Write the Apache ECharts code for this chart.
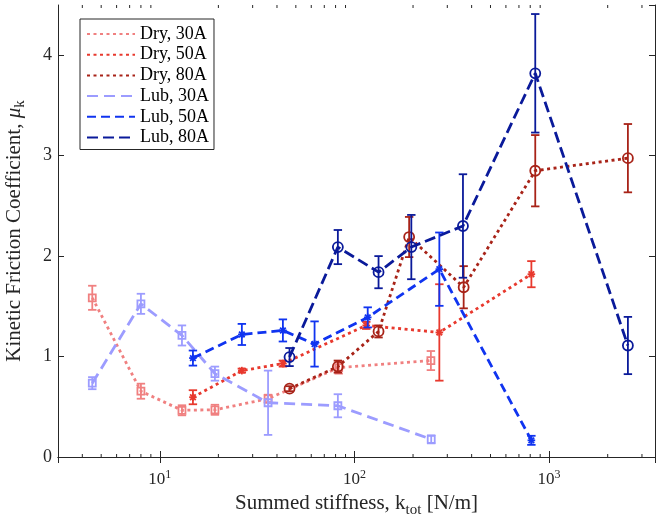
<!DOCTYPE html>
<html><head><meta charset="utf-8">
<script src="https://cdn.jsdelivr.net/npm/echarts@6/dist/echarts.min.js"></script>
<style>html,body{margin:0;padding:0;background:#fff}#c{width:657px;height:525px}</style>
</head><body><div id="c"></div>
<script>
// ---- data ----
const seriesNames = ['Dry, 30A', 'Dry, 50A', 'Dry, 80A', 'Lub, 30A', 'Lub, 50A', 'Lub, 80A'];

const dry30X = [4.5, 8.0, 13.0, 19.2, 36, 83, 247];
const dry30Y = [1.585, 0.655, 0.465, 0.47, 0.58, 0.89, 0.96];
const dry30Err = [0.12, 0.075, 0.05, 0.05, 0.04, 0.06, 0.095];

const dry50X = [14.8, 26.4, 42.9, 115, 273, 811];
const dry50Y = [0.595, 0.86, 0.93, 1.31, 1.24, 1.82];
const dry50Err = [0.07, 0.02, 0.03, 0.035, 0.48, 0.13];

const dry80X = [46.4, 82.2, 133, 191, 364, 849, 2540];
const dry80Y = [0.68, 0.90, 1.25, 2.19, 1.69, 2.85, 2.975];
const dry80Err = [0.025, 0.06, 0.06, 0.20, 0.21, 0.355, 0.34];

const lub30X = [4.5, 8.0, 13.0, 19.2, 36, 82.2, 248];
const lub30Y = [0.735, 1.525, 1.21, 0.83, 0.54, 0.51, 0.176];
const lub30Err = [0.06, 0.10, 0.10, 0.07, 0.32, 0.115, 0.04];

const lub50X = [14.8, 26.4, 42.9, 62.4, 117, 273, 811];
const lub50Y = [0.985, 1.22, 1.26, 1.125, 1.39, 1.87, 0.166];
const lub50Err = [0.075, 0.105, 0.11, 0.225, 0.10, 0.365, 0.045];

const lub80X = [46.4, 82.2, 133, 196, 361, 849, 2540];
const lub80Y = [0.995, 2.09, 1.84, 2.09, 2.30, 3.82, 1.11];
const lub80Err = [0.09, 0.17, 0.16, 0.32, 0.515, 0.59, 0.285];

const xMin = 3, xMax = 3500;
const yMin = 0, yMax = 4.5;
const yTicks = [0, 1, 2, 3, 4];
const xMinorTicks = [];
[1, 10, 100, 1000].forEach(d => { for (let m = 2; m <= 9; m++) { const v = m * d; if (v > xMin && v < xMax) xMinorTicks.push(v); } });

// ---- styles ----
const FONT = 'Liberation Serif';
const AX = '#262626';
const styles = [
  { color: '#F08080', dash: [3, 3.5], marker: 'square' },
  { color: '#E8392E', dash: [3, 3.5], marker: 'star' },
  { color: '#A82318', dash: [3, 3.5], marker: 'circle' },
  { color: '#9C9CFF', dash: [11, 6], marker: 'square' },
  { color: '#1034F0', dash: [9, 5], marker: 'star' },
  { color: '#0A1A9A', dash: [11, 5], marker: 'circle' }
];
const sets = [
  [dry30X, dry30Y, dry30Err], [dry50X, dry50Y, dry50Err], [dry80X, dry80Y, dry80Err],
  [lub30X, lub30Y, lub30Err], [lub50X, lub50Y, lub50Err], [lub80X, lub80Y, lub80Err]
];

function marker(kind, cx, cy, color) {
  const st = { fill: 'none', stroke: color, lineWidth: 1.8 };
  if (kind === 'square') return [{ type: 'rect', shape: { x: cx - 3.5, y: cy - 3.5, width: 7, height: 7 }, style: st }];
  if (kind === 'circle') return [{ type: 'circle', shape: { cx: cx, cy: cy, r: 5 }, style: st }];
  const r = 3.8, d = 2.8;
  return [
    { type: 'line', shape: { x1: cx - r, y1: cy, x2: cx + r, y2: cy }, style: st },
    { type: 'line', shape: { x1: cx, y1: cy - r, x2: cx, y2: cy + r }, style: st },
    { type: 'line', shape: { x1: cx - d, y1: cy - d, x2: cx + d, y2: cy + d }, style: st },
    { type: 'line', shape: { x1: cx - d, y1: cy + d, x2: cx + d, y2: cy - d }, style: st }
  ];
}

const series = [];
sets.forEach((s, i) => {
  series.push({
    type: 'line', name: seriesNames[i], xAxisIndex: 0, yAxisIndex: 0,
    data: s[0].map((x, k) => [x, s[1][k]]),
    symbol: 'none', z: 2 + i,
    lineStyle: { color: styles[i].color, width: 2.8, type: styles[i].dash, cap: 'butt' },
    itemStyle: { color: styles[i].color },
    emphasis: { disabled: true }, animation: false
  });
});
sets.forEach((s, i) => {
  const st = styles[i];
  series.push({
    type: 'custom', name: seriesNames[i], xAxisIndex: 0, yAxisIndex: 0, z: 2 + i,
    data: s[0].map((x, k) => [x, s[1][k], s[2][k]]),
    renderItem: function (params, api) {
      const x = api.value(0), y = api.value(1), e = api.value(2);
      const c = api.coord([x, y]);
      const hi = api.coord([x, y + e]);
      const lo = api.coord([x, y - e]);
      const w = 4.2;
      const ls = { stroke: st.color, lineWidth: 1.8 };
      const ch = [
        { type: 'line', shape: { x1: c[0], y1: hi[1], x2: c[0], y2: lo[1] }, style: ls },
        { type: 'line', shape: { x1: c[0] - w, y1: hi[1], x2: c[0] + w, y2: hi[1] }, style: ls },
        { type: 'line', shape: { x1: c[0] - w, y1: lo[1], x2: c[0] + w, y2: lo[1] }, style: ls }
      ].concat(marker(st.marker, c[0], c[1], st.color));
      return { type: 'group', children: ch };
    },
    animation: false
  });
});
series.push({
  type: 'custom', name: 'minorTicks', silent: true, z: 10,
  data: xMinorTicks.map(v => [v]),
  renderItem: function (params, api) {
    const b = api.coord([api.value(0), yMin]);
    const t = api.coord([api.value(0), yMax]);
    const ls = { stroke: AX, lineWidth: 1 };
    return { type: 'group', children: [
      { type: 'line', shape: { x1: b[0], y1: b[1], x2: b[0], y2: b[1] - 3 }, style: ls },
      { type: 'line', shape: { x1: t[0], y1: t[1], x2: t[0], y2: t[1] + 3 }, style: ls }
    ] };
  },
  animation: false
});

const chart = echarts.init(document.getElementById('c'), null, { renderer: 'canvas' });
chart.setOption({
  backgroundColor: '#fff',
  animation: false,
  grid: { left: 58, right: 2, top: 5, bottom: 68, containLabel: false, outerBoundsMode: 'none' },
  legend: {
    data: seriesNames,
    orient: 'vertical', left: 80, top: 19,
    itemWidth: 48, itemHeight: 14, itemGap: 2.7,
    padding: [6, 5, 3, 6],
    backgroundColor: '#fff', borderColor: AX, borderWidth: 1,
    textStyle: { fontFamily: FONT, fontSize: 18, color: '#000' },
    itemStyle: { opacity: 0 },
    selectedMode: false
  },
  xAxis: [
    {
      type: 'log', logBase: 10, min: xMin, max: xMax, position: 'bottom',
      name: 'Summed stiffness, k{sub|tot} [N/m]', nameLocation: 'middle', nameGap: 31,
      nameTextStyle: { fontFamily: FONT, fontSize: 21, color: AX,
        rich: { sub: { fontFamily: FONT, fontSize: 15, color: AX, padding: [12, 0, 0, 0] } } },
      axisLine: { lineStyle: { color: AX, width: 1 } },
      axisTick: { inside: true, length: 6, lineStyle: { color: AX } },
      splitLine: { show: false },
      axisLabel: {
        margin: 12, showMinLabel: false, showMaxLabel: false, color: AX,
        fontFamily: FONT, fontSize: 17,
        formatter: function (v) { return '{b|10}{s|' + Math.round(Math.log10(v)) + '}'; },
        rich: {
          b: { fontFamily: FONT, fontSize: 17, color: AX },
          s: { fontFamily: FONT, fontSize: 12, color: AX, padding: [0, 0, 10, 0] }
        }
      }
    },
    {
      type: 'log', logBase: 10, min: xMin, max: xMax, position: 'top',
      axisLine: { lineStyle: { color: AX, width: 1 } },
      axisTick: { inside: true, length: 6, lineStyle: { color: AX } },
      axisLabel: { show: false }, splitLine: { show: false }
    }
  ],
  yAxis: [
    {
      type: 'value', min: yMin, max: yMax, interval: 1, position: 'left',
      name: 'Kinetic Friction Coefficient, {i|μ}{sub|k}', nameLocation: 'middle', nameGap: 30,
      nameTextStyle: { fontFamily: FONT, fontSize: 21, color: AX,
        rich: {
          i: { fontFamily: FONT, fontSize: 21, fontStyle: 'italic', color: AX },
          sub: { fontFamily: FONT, fontSize: 15, color: AX, padding: [12, 0, 0, 0] }
        } },
      axisLine: { show: true, lineStyle: { color: AX, width: 1 } },
      axisTick: { show: true, inside: true, length: 6, lineStyle: { color: AX } },
      splitLine: { show: false },
      axisLabel: { margin: 6, showMaxLabel: false, color: AX, fontFamily: FONT, fontSize: 18,
        formatter: v => (yTicks.indexOf(v) >= 0 ? String(v) : '') }
    },
    {
      type: 'value', min: yMin, max: yMax, interval: 1, position: 'right',
      axisLine: { show: true, lineStyle: { color: AX, width: 1 } },
      axisTick: { show: true, inside: true, length: 6, lineStyle: { color: AX } },
      axisLabel: { show: false }, splitLine: { show: false }
    }
  ],
  series: series
});
</script>
</body></html>
